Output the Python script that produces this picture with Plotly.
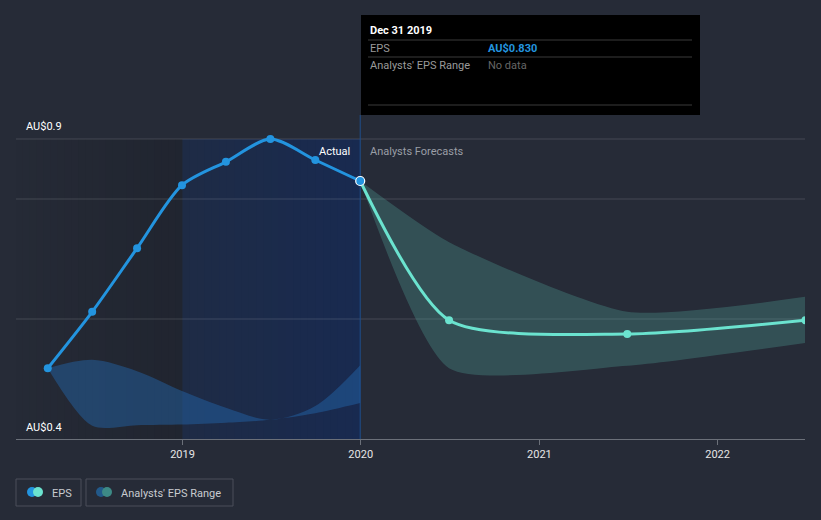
import plotly.graph_objects as go
import datetime as dt

# ---------------- data ----------------
actual_dates = ["2018-03-31", "2018-06-30", "2018-09-30", "2018-12-31",
                "2019-03-31", "2019-06-30", "2019-09-30", "2019-12-31"]
actual_eps = [0.518, 0.612, 0.718, 0.823, 0.862, 0.900, 0.865, 0.830]

past_range_upper = [0.518, 0.532, 0.513, 0.480, 0.452, 0.432, 0.455, 0.523]
past_range_lower = [0.518, 0.422, 0.423, 0.424, 0.427, 0.432, 0.443, 0.460]

fc_dates = ["2019-12-31", "2020-06-30", "2021-06-30", "2022-06-30"]
fc_eps = [0.830, 0.598, 0.575, 0.598]
fc_upper = [0.830, 0.728, 0.612, 0.637]
fc_lower = [0.830, 0.518, 0.522, 0.560]

tick_vals = ["2019-01-01", "2020-01-01", "2021-01-01", "2022-01-01"]
tick_text = ["2019", "2020", "2021", "2022"]
grid_vals = [0.9, 0.8, 0.6]
y_labels = {0.9: "AU$0.9", 0.4: "AU$0.4"}

# ---------------- layout geometry ----------------
W, H = 821, 520
ML, MR, MT, MB = 16, 16, 20, 81
PW, PH = W - ML - MR, H - MT - MB
Y0, SCALE = 0.4, 600.0
Y1 = Y0 + PH / SCALE
X_RANGE = ["2018-01-25", "2022-06-29"]


def px(x):
    return (x - ML) / PW


def py(y):
    return (H - MB - y) / PH


BG = "#262b37"
BG_RGB = (38, 43, 55)
BLUE = "#2394df"
TEAL = "#6be3cf"
FONT = "Roboto"


def blend(rgb, op):
    c = [round(b * (1 - op) + f * op) for b, f in zip(BG_RGB, rgb)]
    return f"rgb({c[0]},{c[1]},{c[2]})"


fig = go.Figure()

# past analysts range
fig.add_trace(go.Scatter(x=actual_dates, y=past_range_lower, mode="lines",
                         line=dict(color="rgba(0,0,0,0)", width=0, shape="spline", smoothing=0.8),
                         hoverinfo="skip", showlegend=False))
fig.add_trace(go.Scatter(x=actual_dates, y=past_range_upper, mode="lines",
                         line=dict(color="rgba(0,0,0,0)", width=0, shape="spline", smoothing=0.9),
                         fill="tonexty", fillcolor="rgba(35,105,175,0.45)",
                         hoverinfo="skip", showlegend=False))
# forecast range
fig.add_trace(go.Scatter(x=fc_dates, y=fc_lower, mode="lines",
                         line=dict(color="rgba(0,0,0,0)", width=0, shape="spline", smoothing=0.6),
                         hoverinfo="skip", showlegend=False))
fig.add_trace(go.Scatter(x=fc_dates, y=fc_upper, mode="lines",
                         line=dict(color="rgba(0,0,0,0)", width=0, shape="spline", smoothing=0.6),
                         fill="tonexty", fillcolor="rgba(90,190,175,0.26)",
                         hoverinfo="skip", showlegend=False))
# forecast EPS
fig.add_trace(go.Scatter(x=fc_dates, y=fc_eps, mode="lines",
                         line=dict(color=TEAL, width=3, shape="spline", smoothing=0.7),
                         hoverinfo="skip", showlegend=False))
fig.add_trace(go.Scatter(x=fc_dates[1:], y=fc_eps[1:], mode="markers",
                         marker=dict(color=TEAL, size=8), hoverinfo="skip", showlegend=False))
# actual EPS
fig.add_trace(go.Scatter(x=actual_dates, y=actual_eps, mode="lines+markers",
                         line=dict(color=BLUE, width=3, shape="spline", smoothing=0.8),
                         marker=dict(color=BLUE, size=8), hoverinfo="skip", showlegend=False))
fig.add_trace(go.Scatter(x=[actual_dates[-1]], y=[actual_eps[-1]], mode="markers",
                         marker=dict(color=BLUE, size=9, line=dict(color="white", width=1.2)),
                         hoverinfo="skip", showlegend=False))

shapes = []
n = 24
d0 = dt.date.fromisoformat(X_RANGE[0])
d1 = dt.date.fromisoformat(tick_vals[0])
d2 = dt.date.fromisoformat(actual_dates[-1])


def strips(start, end, rgb, op_a, op_b):
    span = (end - start).days
    for i in range(n):
        a = start + dt.timedelta(days=span * i / n)
        b = start + dt.timedelta(days=min(span, span * (i + 1) / n + 3))
        op = op_a + (op_b - op_a) * (i / (n - 1))
        shapes.append(dict(type="rect", xref="x", yref="y", x0=a.isoformat(), x1=b.isoformat(),
                           y0=Y0, y1=grid_vals[0], fillcolor=blend(rgb, op),
                           line=dict(width=0), layer="below"))


strips(d0, d1, (10, 12, 18), 0.03, 0.20)
strips(d1, d2, (16, 42, 95), 0.36, 0.62)

for g in grid_vals:
    shapes.append(dict(type="line", xref="x", yref="y", x0=X_RANGE[0], x1=X_RANGE[1], y0=g, y1=g,
                       line=dict(color="rgba(255,255,255,0.14)", width=1), layer="below"))
shapes.append(dict(type="line", xref="x", yref="y", x0=actual_dates[-1], x1=actual_dates[-1],
                   y0=Y0, y1=Y1 - (115 - MT) / SCALE, line=dict(color="#1f4f8c", width=1),
                   layer="below"))
shapes.append(dict(type="rect", xref="paper", yref="paper", x0=px(361), x1=px(700),
                   y0=py(115), y1=py(15), fillcolor="#000000", line=dict(width=0), layer="above"))
for yy in (40, 57, 105):
    shapes.append(dict(type="line", xref="paper", yref="paper", x0=px(368), x1=px(692),
                       y0=py(yy), y1=py(yy), line=dict(color="#3a3a3a", width=1), layer="above"))
for (x0, x1) in ((16, 81), (86, 233)):
    shapes.append(dict(type="rect", xref="paper", yref="paper", x0=px(x0), x1=px(x1),
                       y0=py(506), y1=py(479), fillcolor="rgba(0,0,0,0)",
                       line=dict(color="#4a4f5a", width=1), layer="above"))
r = 5
for cx, col in ((32, BLUE), (38, TEAL), (101, "#22598a"), (107, "#3d8a86")):
    shapes.append(dict(type="circle", xref="paper", yref="paper",
                       x0=px(cx - r), x1=px(cx + r), y0=py(492 + r), y1=py(492 - r),
                       fillcolor=col, line=dict(width=0), layer="above"))

annotations = []


def txt(x, y, s, color, size=11, xanchor="left", bold=False):
    if bold:
        s = f"<b>{s}</b>"
    annotations.append(dict(xref="paper", yref="paper", x=px(x), y=py(y), text=s,
                            showarrow=False, xanchor=xanchor, yanchor="middle",
                            font=dict(family=FONT, size=size, color=color)))


for v, lab in y_labels.items():
    txt(24, (H - MB) - (v - Y0) * SCALE - 12, lab, "#ffffff")
txt(352, 151, "Actual", "#ffffff", xanchor="right")
txt(368, 151, "Analysts Forecasts", "#9a9ea6")
txt(368, 31, "Dec 31 2019", "#ffffff", bold=True)
txt(368, 48, "EPS", "#9a9a9a")
txt(486, 48, "AU$0.830", BLUE, bold=True)
txt(368, 65, "Analysts' EPS Range", "#9a9a9a")
txt(486, 65, "No data", "#666666")
txt(50, 493, "EPS", "#c8cbd0")
txt(119, 493, "Analysts' EPS Range", "#c8cbd0")

fig.update_layout(
    width=W, height=H, margin=dict(l=ML, r=MR, t=MT, b=MB),
    paper_bgcolor=BG, plot_bgcolor=BG, showlegend=False, hovermode=False,
    shapes=shapes, annotations=annotations,
    font=dict(family=FONT, size=11, color="#e6e6e6"),
    xaxis=dict(type="date", range=X_RANGE, tickvals=tick_vals, ticktext=tick_text,
               showgrid=False, zeroline=False, showline=True, linecolor="#6b7079", linewidth=1,
               ticks="outside", ticklen=5, tickcolor="#6b7079",
               tickfont=dict(family=FONT, size=11, color="#e6e6e6"), fixedrange=True),
    yaxis=dict(range=[Y0, Y1], showgrid=False, zeroline=False, showticklabels=False,
               fixedrange=True),
)

fig.write_html("out.html")
